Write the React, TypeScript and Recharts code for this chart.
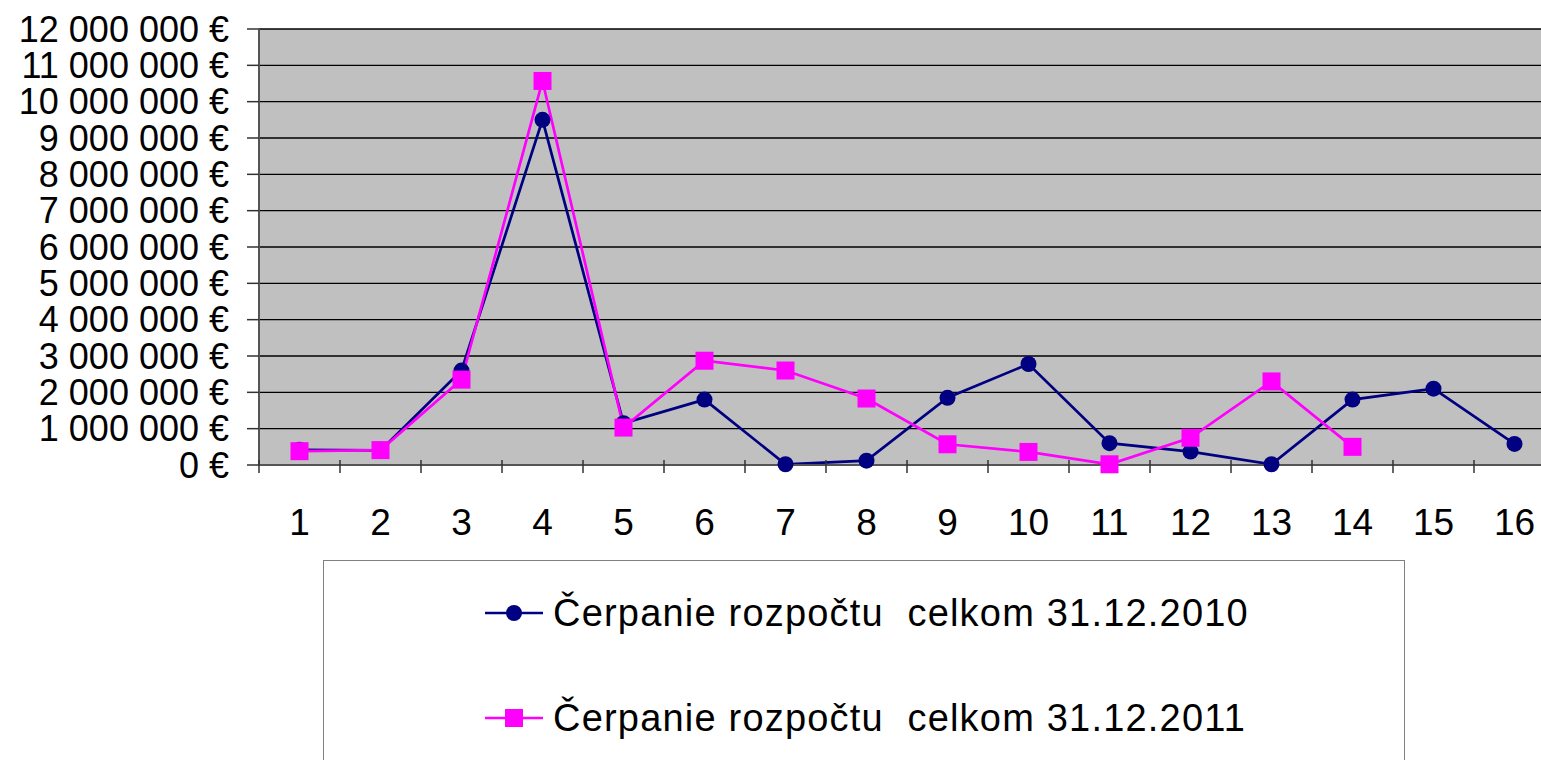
import React from 'react';
import { CartesianGrid, Legend, Line, LineChart, XAxis, YAxis } from 'recharts';

const months = ['1', '2', '3', '4', '5', '6', '7', '8', '9', '10', '11', '12', '13', '14', '15', '16'];
const cerpanie2010 = [420000, 400000, 2600000, 9500000, 1150000, 1800000, 20000, 120000, 1850000, 2780000, 600000, 370000, 20000, 1800000, 2100000, 580000];
const cerpanie2011 = [380000, 410000, 2350000, 10570000, 1030000, 2870000, 2600000, 1830000, 570000, 360000, 20000, 750000, 2300000, 500000, null, null];
const yTicks = [0, 1000000, 2000000, 3000000, 4000000, 5000000, 6000000, 7000000, 8000000, 9000000, 10000000, 11000000, 12000000];

const seriesNames = ['Čerpanie rozpočtu  celkom 31.12.2010', 'Čerpanie rozpočtu  celkom 31.12.2011'];

const data = months.map((m, i) => ({ name: m, s2010: cerpanie2010[i], s2011: cerpanie2011[i] }));

const FONT = '"Liberation Sans", Arial, sans-serif';
const BAND = 81;

const euro = (v: number) => String(v).replace(/\B(?=(\d{3})+(?!\d))/g, ' ') + ' €';

const XTick = (props: any) => {
  const { x, y, payload } = props;
  return (
    <g>
      <line x1={x - BAND / 2} x2={x - BAND / 2} y1={y - 13} y2={y} stroke='#333' strokeWidth={1.5} />
      <text x={x} y={y + 36} dy='0.71em' textAnchor='middle' fontSize={37} fontFamily={FONT} fill='#000'>
        {payload.value}
      </text>
    </g>
  );
};

const circleDot = (props: any) => {
  const { cx, cy, index } = props;
  if (cx == null || cy == null) return <g key={'c' + index} />;
  return <circle key={'c' + index} cx={cx} cy={cy} r={8} fill='#000080' />;
};

const squareDot = (props: any) => {
  const { cx, cy, index } = props;
  if (cx == null || cy == null) return <g key={'s' + index} />;
  return <rect key={'s' + index} x={cx - 9} y={cy - 9} width={18} height={18} fill='#FF00FF' />;
};

const LegendBox = (props: any) => {
  const items = props.payload || [];
  return (
    <div
      style={{
        width: 1082,
        height: 210,
        border: '1.5px solid #808080',
        boxSizing: 'border-box',
        position: 'relative',
        background: '#fff',
        fontFamily: FONT,
      }}
    >
      {items.map((it: any, i: number) => {
        const top = 52 + i * 105;
        const isSquare = it.dataKey === 's2011';
        return (
          <div key={it.value} style={{ position: 'absolute', left: 161, top: top - 30, height: 60, display: 'flex', alignItems: 'center' }}>
            <svg width={58} height={30} style={{ marginRight: 10 }}>
              <line x1={0} x2={58} y1={15} y2={15} stroke={it.color} strokeWidth={2.5} />
              {isSquare ? (
                <rect x={20} y={6} width={18} height={18} fill={it.color} />
              ) : (
                <circle cx={29} cy={15} r={8} fill={it.color} />
              )}
            </svg>
            <span style={{ fontSize: 38, letterSpacing: 1.2, color: '#000', whiteSpace: 'pre' }}>{it.value}</span>
          </div>
        );
      })}
    </div>
  );
};

export default function App() {
  return (
    <div style={{ position: 'absolute', left: 0, top: 0, width: 1541, height: 760, overflow: 'hidden', background: '#fff' }}>
      <LineChart width={1570} height={760} data={data} margin={{ top: 29, right: 15, bottom: 0, left: 0 }}>
        <CartesianGrid vertical={false} stroke='#000' strokeWidth={1.3} fill='#C0C0C0' fillOpacity={1} />
        <XAxis
          dataKey='name'
          scale='band'
          height={295}
          tickLine={false}
          tick={<XTick />}
          axisLine={{ stroke: '#555', strokeWidth: 2 }}
          interval={0}
        />
        <YAxis
          width={259}
          domain={[0, 12000000]}
          ticks={yTicks}
          interval={0}
          tickFormatter={euro}
          tickSize={12}
          tickMargin={18}
          tickLine={{ stroke: '#333', strokeWidth: 1.5 }}
          axisLine={{ stroke: '#555', strokeWidth: 2 }}
          tick={{ fontSize: 36, fontFamily: FONT, fill: '#000' }}
        />
        <Legend
          layout='horizontal'
          verticalAlign='middle'
          align='center'
          content={<LegendBox />}
          wrapperStyle={{ position: 'absolute', left: 323, top: 560, width: 1082, height: 210 }}
        />
        <Line
          dataKey='s2010'
          name={seriesNames[0]}
          stroke='#000080'
          strokeWidth={2.7}
          dot={circleDot}
          activeDot={false}
          isAnimationActive={false}
        />
        <Line
          dataKey='s2011'
          name={seriesNames[1]}
          stroke='#FF00FF'
          strokeWidth={2.7}
          dot={squareDot}
          activeDot={false}
          isAnimationActive={false}
        />
      </LineChart>
    </div>
  );
}
